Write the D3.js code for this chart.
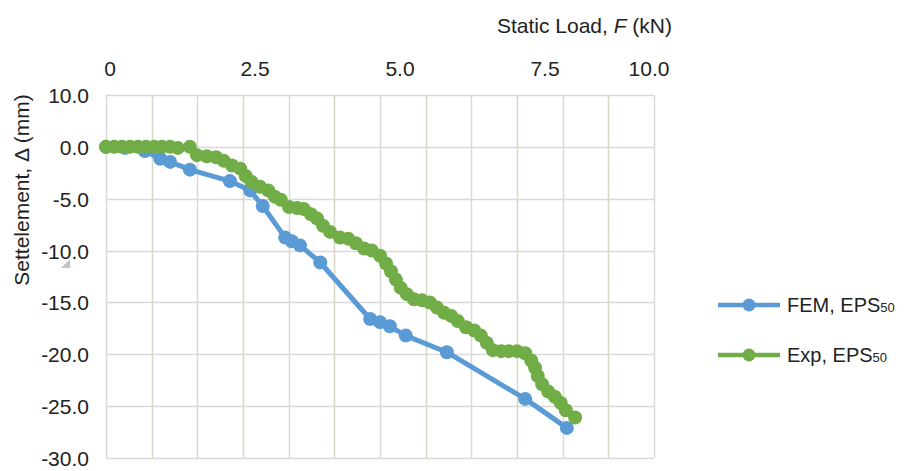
<!DOCTYPE html>
<html>
<head>
<meta charset="utf-8">
<script src="https://cdn.jsdelivr.net/npm/d3@7"></script>
<style>
  body { margin: 0; background: #fff; }
  text { font-family: "Liberation Sans", Arial, sans-serif; fill: #222; }
</style>
</head>
<body>
<svg id="chart" width="912" height="471"></svg>
<script>
// static load F (kN) and settlement (mm)
const femLoad = [0, 0.35, 0.71, 0.99, 1.17, 1.53, 2.26, 2.63, 2.86, 3.27, 3.39, 3.54, 3.91, 4.82, 5.00, 5.18, 5.47, 6.22, 7.65, 8.41];
const femSettle = [0, -0.1, -0.4, -1.15, -1.45, -2.2, -3.3, -4.2, -5.7, -8.75, -9.1, -9.5, -11.15, -16.6, -16.9, -17.3, -18.2, -19.8, -24.3, -27.1];

const expLoad = [0, 0.15, 0.29, 0.44, 0.58, 0.73, 0.88, 1.02, 1.17, 1.31, 1.53, 1.66, 1.84, 2.01, 2.15, 2.30, 2.45, 2.55, 2.66, 2.81,
  2.96, 3.08, 3.19, 3.34, 3.49, 3.61, 3.74, 3.85, 3.96, 4.09, 4.27, 4.42, 4.56, 4.71, 4.85, 5.00, 5.11, 5.20, 5.29, 5.38,
  5.49, 5.62, 5.77, 5.91, 6.04, 6.17, 6.30, 6.42, 6.57, 6.72, 6.84, 6.95, 7.06, 7.21, 7.35, 7.50, 7.65, 7.76, 7.83, 7.88,
  7.96, 8.07, 8.19, 8.30, 8.39, 8.56];
const expSettle = [0, 0, 0, 0, 0, 0, 0, 0, 0, -0.1, 0, -0.8, -0.9, -1.0, -1.35, -1.8, -2.1, -2.8, -3.4, -3.85,
  -4.2, -4.8, -5.1, -5.8, -5.9, -6.0, -6.5, -6.9, -7.6, -8.2, -8.75, -8.85, -9.3, -9.8, -10.0, -10.5, -11.25, -12.0, -12.8, -13.6,
  -14.2, -14.7, -14.8, -15.0, -15.5, -16.0, -16.3, -16.8, -17.4, -17.7, -18.2, -18.9, -19.6, -19.7, -19.7, -19.7, -19.9, -20.6, -21.3, -22.1,
  -22.9, -23.6, -24.1, -24.7, -25.4, -26.1];

const xTicks = [0, 2.5, 5, 7.5, 10];
const xTickLabels = ["0", "2.5", "5.0", "7.5", "10.0"];
const yTicks = [5, 0, -5, -10, -15, -20, -25, -30];
const yTickLabels = ["10.0", "0.0", "-5.0", "-10.0", "-15.0", "-20.0", "-25.0", "-30.0"];

const seriesNames = ["FEM, EPS", "Exp, EPS"];
const seriesSub = ["50", "50"];
const seriesColors = ["#5B9BD5", "#70AD47"];

const svg = d3.select("#chart");

const x = d3.scaleLinear().domain([0, 10]).range([106, 654]);
const y = d3.scaleLinear().domain([5, -30]).range([95, 458]);
// tick labels sit a little off the grid in the original
const labelX = d3.scaleLinear().domain([0, 7.5]).range([110, 545]);

const grid = svg.append("g");
grid.selectAll("line.v")
  .data(d3.range(13))
  .enter()
  .append("line")
  .attr("class", "v")
  .attr("x1", i => Math.round(x(i * 10 / 12)) + 0.5)
  .attr("x2", i => Math.round(x(i * 10 / 12)) + 0.5)
  .attr("y1", y(5))
  .attr("y2", y(-30))
  .attr("stroke", (i) => (i % 2 === 1 ? "#d8d6c4" : "#d9d9d9"))
  .attr("stroke-width", 1.5);

grid.selectAll("line.h")
  .data(yTicks)
  .enter()
  .append("line")
  .attr("class", "h")
  .attr("x1", x(0))
  .attr("x2", x(10))
  .attr("y1", d => Math.round(y(d)) + 0.5)
  .attr("y2", d => Math.round(y(d)) + 0.5)
  .attr("stroke", "#d9d9d9")
  .attr("stroke-width", 1.5);

svg.selectAll("text.xt")
  .data(xTicks)
  .enter()
  .append("text")
  .attr("class", "xt")
  .attr("x", d => Math.min(labelX(d), 649))
  .attr("y", 76)
  .attr("text-anchor", "middle")
  .style("font-size", "21px")
  .text((d, i) => xTickLabels[i]);

svg.selectAll("text.yt")
  .data(yTicks)
  .enter()
  .append("text")
  .attr("class", "yt")
  .attr("x", 89)
  .attr("y", d => y(d) + 8)
  .attr("text-anchor", "end")
  .style("font-size", "21px")
  .text((d, i) => yTickLabels[i]);

// little grey corner mark under the -10.0 label
svg.append("path")
  .attr("d", "M70,259 L70,268 L61,268 Z")
  .attr("fill", "#c4c4c4");

svg.append("text")
  .attr("x", 672)
  .attr("y", 33)
  .attr("text-anchor", "end")
  .style("font-size", "21px")
  .html('Static Load, <tspan font-style="italic">F</tspan> (kN)');

svg.append("text")
  .attr("transform", "translate(29,190) rotate(-90)")
  .attr("text-anchor", "middle")
  .style("font-size", "21px")
  .text("Settelement, \u0394 (mm)");

const series = [
  femLoad.map((f, i) => [f, femSettle[i]]),
  expLoad.map((f, i) => [f, expSettle[i]])
];

const line = d3.line()
  .x(d => x(d[0]))
  .y(d => y(d[1]));

series.forEach((pts, k) => {
  const g = svg.append("g");
  g.append("path")
    .datum(pts)
    .attr("fill", "none")
    .attr("stroke", seriesColors[k])
    .attr("stroke-width", 5)
    .attr("stroke-linejoin", "round")
    .attr("d", line);
  g.selectAll("circle")
    .data(pts)
    .enter()
    .append("circle")
    .attr("cx", d => x(d[0]))
    .attr("cy", d => y(d[1]))
    .attr("r", 7)
    .attr("fill", seriesColors[k]);
});

const legend = svg.selectAll("g.legend")
  .data(seriesNames)
  .enter()
  .append("g")
  .attr("class", "legend")
  .attr("transform", (d, i) => `translate(718,${305 + i * 50})`);

legend.append("line")
  .attr("x1", 0)
  .attr("x2", 62)
  .attr("stroke", (d, i) => seriesColors[i])
  .attr("stroke-width", 4.5);

legend.append("circle")
  .attr("cx", 31)
  .attr("r", 6.5)
  .attr("fill", (d, i) => seriesColors[i]);

const lt = legend.append("text")
  .attr("x", 69)
  .attr("y", 7)
  .style("font-size", "20px");
lt.append("tspan").text(d => d);
lt.append("tspan")
  .style("font-size", "13px")
  .text((d, i) => seriesSub[i]);
</script>
</body>
</html>
